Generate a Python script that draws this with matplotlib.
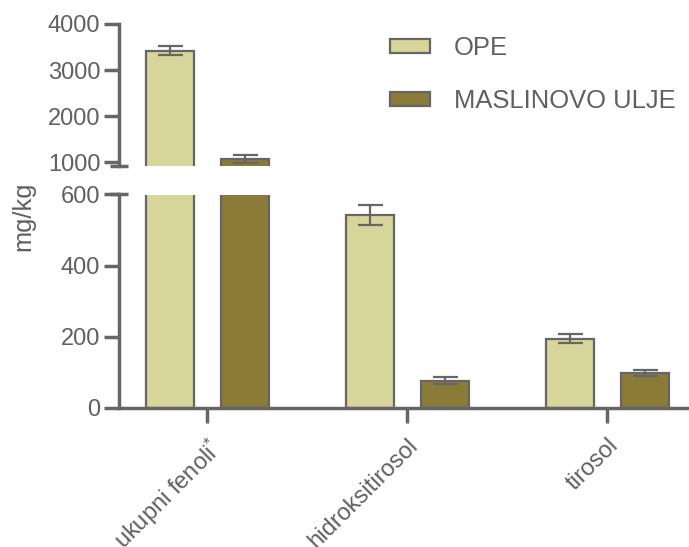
import matplotlib
matplotlib.use("Agg")
import matplotlib.pyplot as plt
from matplotlib.patches import Patch
import numpy as np

# Data
categories = ["ukupni fenoli$^{*}$", "hidroksitirosol", "tirosol"]
series_names = ["OPE", "MASLINOVO ULJE"]
ope_values = [3420, 542, 195]
ope_errors = [95, 28, 13]
ulje_values = [1078, 77, 98]
ulje_errors = [85, 10, 9]
upper_ticks = [1000, 2000, 3000, 4000]
lower_ticks = [0, 200, 400, 600]

# Style
TEXT = "#606060"
EDGE = "#666666"
C_OPE = "#D6D69B"
C_ULJE = "#8B7B38"
FS = 17
FS_LEG = 18.4

plt.rcParams["font.family"] = ["Liberation Sans", "DejaVu Sans"]
plt.rcParams["mathtext.default"] = "regular"
plt.rcParams["text.color"] = TEXT
plt.rcParams["axes.labelcolor"] = TEXT
plt.rcParams["xtick.color"] = EDGE
plt.rcParams["ytick.color"] = EDGE
plt.rcParams["xtick.labelcolor"] = TEXT
plt.rcParams["ytick.labelcolor"] = TEXT

W, H = 689, 547
fig = plt.figure(figsize=(W / 100, H / 100), dpi=100)

left = 119.5 / W
width = (688 - 119.5) / W
ax_top = fig.add_axes([left, 1 - 166 / H, width, (166 - 24) / H])
ax_bot = fig.add_axes([left, 1 - 408 / H, width, (408 - 194.5) / H])

x = np.arange(len(categories))
off = 0.1875
bw = 0.24
xlim = (-0.4375, 2.405)

err_kw = dict(ecolor=EDGE, elinewidth=1.6, capsize=9, capthick=1.6)
for ax in (ax_top, ax_bot):
    ax.bar(x - off, ope_values, bw, color=C_OPE, edgecolor=EDGE, linewidth=1.6,
           yerr=ope_errors, error_kw=err_kw, zorder=2)
    ax.bar(x + off, ulje_values, bw, color=C_ULJE, edgecolor=EDGE, linewidth=1.6,
           yerr=ulje_errors, error_kw=err_kw, zorder=2)
    ax.set_xlim(*xlim)
    for s in ("top", "right"):
        ax.spines[s].set_visible(False)
    for s in ("left", "bottom"):
        ax.spines[s].set_linewidth(2.5)
        ax.spines[s].set_color(EDGE)
    ax.tick_params(axis="both", length=10.8, width=2.5, labelsize=FS, pad=3)

ax_top.set_ylim(920, 4000)
ax_top.set_yticks(upper_ticks)
ax_top.spines["bottom"].set_visible(False)
ax_top.set_xticks([])

ax_bot.set_ylim(0, 600)
ax_bot.set_yticks(lower_ticks)
ax_bot.set_xticks(x)
ax_bot.set_xticklabels(categories, rotation=45, ha="right", va="top",
                       rotation_mode="anchor")
ax_bot.tick_params(axis="x", pad=8)

# Axis break marks on the left spine
bl, br = -9.5 / (688 - 119.5), 8.5 / (688 - 119.5)
ax_bot.plot([bl, br], [1, 1], transform=ax_bot.transAxes, color=EDGE,
            lw=2.5, clip_on=False, solid_capstyle="butt")
ax_top.plot([bl, br], [0, 0], transform=ax_top.transAxes, color=EDGE,
            lw=2.5, clip_on=False, solid_capstyle="butt")

fig.text(23 / W, 1 - 216 / H, "mg/kg", rotation=90, ha="center", va="center",
         fontsize=FS_LEG, color=TEXT)

handles = [Patch(facecolor=C_OPE, edgecolor=EDGE, linewidth=1.6),
           Patch(facecolor=C_ULJE, edgecolor=EDGE, linewidth=1.6)]
fig.legend(handles, series_names, loc="upper left",
           bbox_to_anchor=(390 / W, 1 - 36 / H), frameon=False, fontsize=FS_LEG,
           handlelength=1.56, handleheight=0.51, handletextpad=0.94,
           labelspacing=1.14, borderpad=0, borderaxespad=0)

fig.savefig("out.png", dpi=100)
